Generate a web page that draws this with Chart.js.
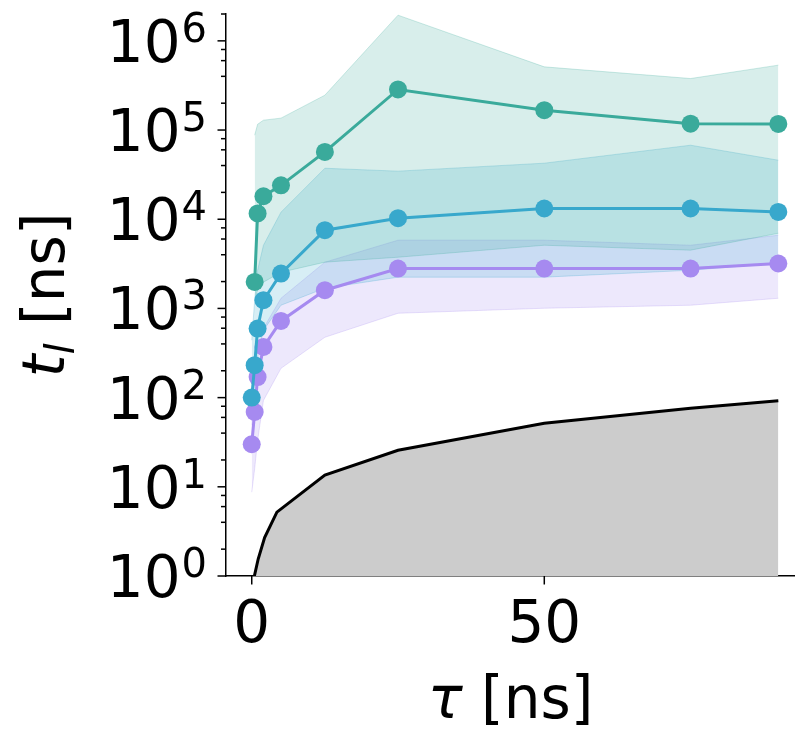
<!DOCTYPE html>
<html>
<head>
<meta charset="utf-8">
<script src="https://cdn.jsdelivr.net/npm/chart.js@4"></script>
<style>
  html, body { margin: 0; padding: 0; background: #fff; overflow: hidden; }
  #chart { display: block; }
</style>
</head>
<body>
<canvas id="chart" width="795" height="731"></canvas>
<script>
// tau values (ns) shared by the three coloured series
const tau = [0, 0.5, 1, 2, 5, 12.5, 25, 50, 75, 90];

// green series (no point at tau = 0)
const greenMean  = [null, 1980, 11600, 18100, 24000, 56900, 285000, 167000, 118000, 117000];
const greenUpper = [null, 87500, 116000, 129000, 136000, 246000, 1940000, 511000, 378000, 534000];
const greenLower = [null, 1235, 1600, 1970, 2545, 3300, 3750, 5110, 4500, 6960];

// blue series
const blueMean  = [100, 231, 595, 1236, 2462, 7530, 10270, 13190, 13190, 12080];
const blueUpper = [440, 1235, 2680, 5110, 12000, 37300, 34600, 42500, 67600, 45900];
const blueLower = [68.5, 138, 299, 569, 1086, 1684, 2240, 2240, 2680, 3213];

// purple series
const purpleMean  = [30, 69, 170, 370, 724, 1600, 2800, 2800, 2800, 3190];
const purpleUpper = [49, 115, 262, 600, 1300, 3300, 5820, 5820, 5110, 6620];
const purpleLower = [8.7, 16, 33, 93, 213, 475, 883, 1005, 1086, 1300];

// black reference curve with grey area below
const refTau   = [0.45, 1.1, 2.2, 4.3, 12.5, 25, 50, 75, 90];
const refValue = [1, 1.55, 2.7, 5.2, 13.5, 25.7, 51.6, 76, 92];

// axis ticks
const yExponents = [0, 1, 2, 3, 4, 5, 6];
const yMinorMultipliers = [2, 4, 6, 8];
const xTicks = [0, 50];

const COLORS = {
  green: '58,170,155',
  blue: '56,168,204',
  purple: '166,138,240',
};

const pts = (xs, ys) => xs.map((x, i) => ({ x: x, y: ys[i] })).filter(p => p.y !== null);

const FONT = '"DejaVu Sans", sans-serif';

function band(upper, lower, color, order) {
  return [
    {
      data: pts(tau, upper),
      borderColor: 'rgba(' + color + ',0.25)',
      borderWidth: 1,
      backgroundColor: 'rgba(' + color + ',0.2)',
      pointRadius: 0,
      fill: '+1',
      order: order,
    },
    {
      data: pts(tau, lower),
      borderColor: 'rgba(' + color + ',0.25)',
      borderWidth: 1,
      pointRadius: 0,
      fill: false,
      order: order,
    },
  ];
}

function meanLine(values, color, order) {
  return {
    data: pts(tau, values),
    borderColor: 'rgb(' + color + ')',
    backgroundColor: 'rgb(' + color + ')',
    borderWidth: 3,
    pointRadius: 9,
    pointBorderWidth: 0,
    pointBackgroundColor: 'rgb(' + color + ')',
    fill: false,
    order: order,
  };
}

// ticks, tick labels and axis titles drawn the matplotlib way
const axisDecor = {
  id: 'axisDecor',
  afterDraw(chart) {
    const ctx = chart.ctx;
    const xs = chart.scales.x, ys = chart.scales.y;
    const left = chart.chartArea.left, bottom = chart.chartArea.bottom;
    ctx.save();
    ctx.strokeStyle = '#000';
    ctx.fillStyle = '#000';
    ctx.lineWidth = 1.5;

    const seg = (x1, y1, x2, y2) => {
      ctx.beginPath(); ctx.moveTo(x1, y1); ctx.lineTo(x2, y2); ctx.stroke();
    };

    // y ticks + labels
    yExponents.forEach(e => {
      const v = Math.pow(10, e);
      const py = ys.getPixelForValue(v);
      seg(left - 8.5, py, left, py);
      yMinorMultipliers.forEach(m => {
        const mv = m * v;
        if (mv <= ys.max * 1.001) {
          const my = ys.getPixelForValue(mv);
          seg(left - 5, my, left, my);
        }
      });
      ctx.textBaseline = 'alphabetic';
      ctx.textAlign = 'right';
      ctx.font = '40px ' + FONT;
      const sup = String(e);
      const w = ctx.measureText(sup).width;
      ctx.fillText(sup, 207, py + 1);
      ctx.font = '58px ' + FONT;
      ctx.fillText('10', 207 - w - 1, py + 21);
    });

    // x ticks + labels
    xTicks.forEach(t => {
      const px = xs.getPixelForValue(t);
      seg(px, bottom, px, bottom + 8.5);
      ctx.font = '58px ' + FONT;
      ctx.textAlign = 'center';
      ctx.fillText(String(t), px, 642);
    });

    // x title: tau [ns]
    ctx.textAlign = 'left';
    ctx.font = 'italic 58px ' + FONT;
    const wTau = ctx.measureText('\u03c4').width;
    ctx.font = '58px ' + FONT;
    const wRest = ctx.measureText(' [ns]').width;
    const cx = (left + chart.chartArea.right) / 2;
    let sx = cx - (wTau + wRest) / 2;
    ctx.font = 'italic 58px ' + FONT;
    ctx.fillText('\u03c4', sx, 718);
    ctx.font = '58px ' + FONT;
    ctx.fillText(' [ns]', sx + wTau, 718);

    // y title: t_l [ns], rotated
    ctx.translate(64, (chart.chartArea.top + bottom) / 2);
    ctx.rotate(-Math.PI / 2);
    ctx.font = 'italic 58px ' + FONT;
    const wt = ctx.measureText('t').width;
    ctx.font = 'italic 40px ' + FONT;
    const wl = ctx.measureText('l').width;
    ctx.font = '58px ' + FONT;
    const wn = ctx.measureText(' [ns]').width;
    let ox = -(wt + wl + wn) / 2;
    ctx.font = 'italic 58px ' + FONT;
    ctx.fillText('t', ox, 0);
    ctx.font = 'italic 40px ' + FONT;
    ctx.fillText('l', ox + wt, 10);
    ctx.font = '58px ' + FONT;
    ctx.fillText(' [ns]', ox + wt + wl, 0);
    ctx.restore();
  }
};

const datasets = [
  meanLine(greenMean, COLORS.green, 1),
  meanLine(blueMean, COLORS.blue, 2),
  meanLine(purpleMean, COLORS.purple, 3),
  ...band(greenUpper, greenLower, COLORS.green, 10),
  ...band(blueUpper, blueLower, COLORS.blue, 11),
  ...band(purpleUpper, purpleLower, COLORS.purple, 12),
  {
    data: pts(refTau, refValue),
    borderColor: '#000',
    borderWidth: 3,
    backgroundColor: '#cccccc',
    pointRadius: 0,
    fill: 'start',
    order: 20,
  },
];

new Chart(document.getElementById('chart'), {
  type: 'line',
  data: { datasets: datasets },
  options: {
    responsive: false,
    animation: false,
    devicePixelRatio: 1,
    layout: { autoPadding: false, padding: { left: 226, top: 14, right: 0, bottom: 155 } },
    plugins: {
      legend: { display: false },
      tooltip: { enabled: false },
      filler: { propagate: false },
    },
    scales: {
      x: {
        type: 'linear',
        min: -4.4,
        max: 92.85,
        grid: { display: false, drawTicks: false },
        border: { display: true, color: '#000', width: 1.5 },
        ticks: { display: false },
      },
      y: {
        type: 'logarithmic',
        min: 1,
        max: 2e6,
        grid: { display: false, drawTicks: false },
        border: { display: true, color: '#000', width: 1.5 },
        ticks: { display: false },
      },
    },
  },
  plugins: [axisDecor],
});
</script>
</body>
</html>
